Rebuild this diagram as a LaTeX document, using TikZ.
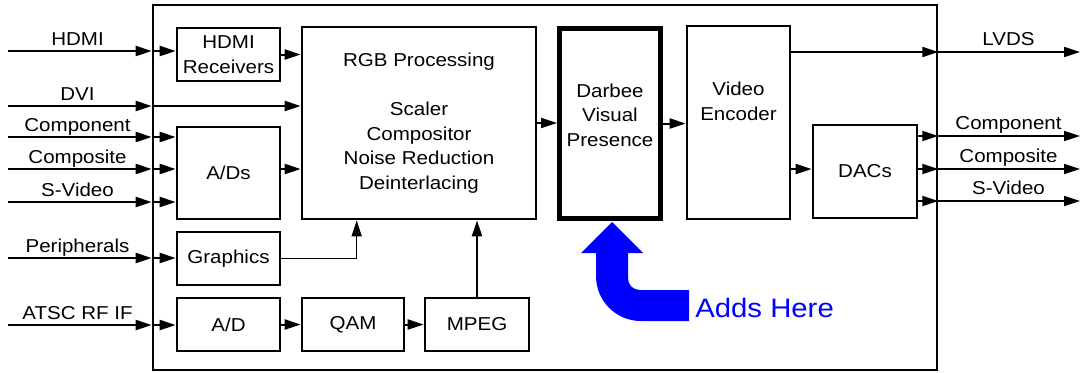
\documentclass[tikz,border=0pt]{standalone}
\usepackage{fontspec}
\setmainfont[FakeStretch=1.1]{Liberation Sans}
\usepackage{xcolor}
\usepackage{tikz}
\usetikzlibrary{arrows.meta}

\definecolor{addblue}{RGB}{0,0,255}
\newcommand{\boxfont}{\fontsize{14}{18.4}\selectfont}
\tikzset{
  blk/.style 2 args={draw, line width=2pt, minimum width=#1*0.75pt, minimum height=#2*0.75pt, inner sep=0.75pt, align=center, font=\boxfont},
  boxtxt/.style={inner sep=0.75pt, align=center, font=\boxfont},
  sigtxt/.style={anchor=base, inner sep=0pt, font=\boxfont},
  sig/.style={line width=1.5pt, -{Triangle[length=12pt,width=7.5pt]}},
}

\begin{document}
\begin{tikzpicture}[x=0.75pt,y=0.75pt,yscale=-1,xscale=1]
\useasboundingbox (0,0) rectangle (1081,372);

% Frame
\node[draw, line width=2pt, minimum width=784*0.75pt, minimum height=365*0.75pt, inner sep=0pt] (frame) at (545,187.5) {};

% Blocks
\node[blk={103}{53}] (hdmiRx) at (228.5,54.5) {HDMI\\Receivers};
\node[blk={103}{92}] (ads) at (228.5,173) {A/Ds};
\node[blk={103}{53}] (gfx) at (228.5,258.5) {Graphics};
\node[blk={103}{53}] (atscAd) at (228.5,324.5) {A/D};
\node[blk={234}{192}] (rgb) at (419,123) {RGB Processing\\[18.4pt]Scaler\\Compositor\\Noise Reduction\\Deinterlacing};
\node[blk={102}{53}] (qam) at (353,324.5) {QAM};
\node[blk={104}{53}] (mpeg) at (477,324.5) {MPEG};
\node[blk={101}{190}, line width=3.75pt] (dvp) at (610,123.5) {};
\node[boxtxt] (dvpTxt) at (610,115) {Darbee\\Visual\\Presence};
\node[blk={103}{193}] (venc) at (738.5,122.5) {};
\node[boxtxt] (vencTxt) at (738.5,101.5) {Video\\Encoder};
\node[blk={104}{93}] (dacs) at (865,171.5) {DACs};

% Inputs
\coordinate (inHDMI) at (8,51);
\coordinate (inDVI) at (8,106);
\coordinate (inComp) at (8,137);
\coordinate (inCvbs) at (8,169);
\coordinate (inSvid) at (8,202);
\coordinate (inPeri) at (8,258);
\coordinate (inATSC) at (8,325);

\draw[sig] (inHDMI) -- (inHDMI -| frame.west);
\draw[sig] (inHDMI -| frame.west) -- (inHDMI -| hdmiRx.west);
\draw[sig] (inDVI) -- (inDVI -| frame.west);
\draw[sig] (inDVI -| frame.west) -- (inDVI -| rgb.west);
\draw[sig] (inComp) -- (inComp -| frame.west);
\draw[sig] (inComp -| frame.west) -- (inComp -| ads.west);
\draw[sig] (inCvbs) -- (inCvbs -| frame.west);
\draw[sig] (inCvbs -| frame.west) -- (inCvbs -| ads.west);
\draw[sig] (inSvid) -- (inSvid -| frame.west);
\draw[sig] (inSvid -| frame.west) -- (inSvid -| ads.west);
\draw[sig] (inPeri) -- (inPeri -| frame.west);
\draw[sig] (inPeri -| frame.west) -- (inPeri -| gfx.west);
\draw[sig] (inATSC) -- (inATSC -| frame.west);
\draw[sig] (inATSC -| frame.west) -- (inATSC -| atscAd.west);

% Text Node
\node[sigtxt] (lblHDMI) at (77.5,45.5) {HDMI};
\node[sigtxt] (lblDVI) at (77.5,100.5) {DVI};
\node[sigtxt] (lblComp) at (77.5,131.5) {Component};
\node[sigtxt] (lblCvbs) at (77.5,163.5) {Composite};
\node[sigtxt] (lblSvid) at (77.5,196.5) {S-Video};
\node[sigtxt] (lblPeri) at (77.5,252.5) {Peripherals};
\node[sigtxt] (lblATSC) at (77.5,319.5) {ATSC RF IF};

% Internal paths
\draw[sig] (hdmiRx.east) -- (hdmiRx.east -| rgb.west);
\draw[sig] (inCvbs -| ads.east) -- (inCvbs -| rgb.west);
\draw[sig, line width=1.2pt] (gfx.east) -| ([xshift=42pt]rgb.south west);
\draw[sig] (mpeg.north) -- (mpeg.north |- rgb.south);
\draw[sig] (atscAd.east) -- (qam.west);
\draw[sig] (qam.east) -- (mpeg.west);
\draw[sig] (rgb.east) -- (rgb.east -| dvp.west);
\draw[sig] (dvp.east) -- (dvp.east -| venc.west);

% Outputs
\coordinate (outLVDS) at (1080,52);
\coordinate (outComp) at (1080,136);
\coordinate (outCvbs) at (1080,169);
\coordinate (outSvid) at (1080,201);

\draw[sig] (outLVDS -| venc.east) -- (outLVDS -| frame.east);
\draw[sig] (outLVDS -| frame.east) -- (outLVDS);
\draw[sig] (outCvbs -| venc.east) -- (outCvbs -| dacs.west);
\draw[sig] (outComp -| dacs.east) -- (outComp -| frame.east);
\draw[sig] (outComp -| frame.east) -- (outComp);
\draw[sig] (outCvbs -| dacs.east) -- (outCvbs -| frame.east);
\draw[sig] (outCvbs -| frame.east) -- (outCvbs);
\draw[sig] (outSvid -| dacs.east) -- (outSvid -| frame.east);
\draw[sig] (outSvid -| frame.east) -- (outSvid);

% Text Node
\node[sigtxt] (lblLVDS) at (1008.5,45) {LVDS};
\node[sigtxt] (lblCompOut) at (1008.5,129.5) {Component};
\node[sigtxt] (lblCvbsOut) at (1008.5,162) {Composite};
\node[sigtxt] (lblSvidOut) at (1008.5,194.5) {S-Video};

% Blue arrow
\fill[addblue] (612,222) -- (643,253) -- (628,253) -- (628,278) .. controls (628,285) and (633,290) .. (640,290) -- (689,290) -- (689,321) -- (641,321) .. controls (616,321) and (596,301) .. (596,276) -- (596,253) -- (581,253) -- cycle;
\node[anchor=base west, inner sep=0pt, text=addblue, font=\fontsize{20}{24}\selectfont] (addsTxt) at (695,317) {Adds Here};
\end{tikzpicture}
\end{document}
